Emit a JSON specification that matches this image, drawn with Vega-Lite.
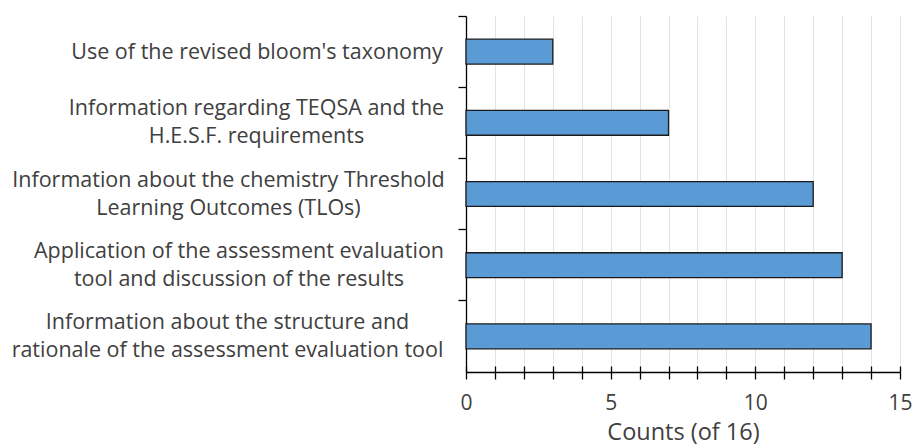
{
  "$schema": "https://vega.github.io/schema/vega-lite/v6.json",
  "width": 434,
  "height": 356,
  "autosize": "none",
  "padding": {"left": 466, "top": 16, "right": 14, "bottom": 74},
  "background": "white",
  "config": {
    "view": {"stroke": null},
    "font": "Open Sans"
  },
  "data": {
    "values": [
      {"topic": "Use of the revised bloom's taxonomy", "count": 3},
      {"topic": "Information regarding TEQSA and the\nH.E.S.F. requirements", "count": 7},
      {"topic": "Information about the chemistry Threshold\nLearning Outcomes (TLOs)", "count": 12},
      {"topic": "Application of the assessment evaluation\ntool and discussion of the results", "count": 13},
      {"topic": "Information about the structure and\nrationale of the assessment evaluation tool", "count": 14}
    ]
  },
  "encoding": {
    "y": {
      "field": "topic",
      "type": "nominal",
      "sort": null,
      "scale": {"paddingInner": 0, "paddingOuter": 0},
      "axis": {
        "title": null,
        "bandPosition": 0,
        "domainColor": "#000000",
        "domainWidth": 1.3,
        "tickColor": "#000000",
        "tickWidth": 1.3,
        "tickSize": 8,
        "labelFont": "Open Sans",
        "labelFontSize": 21.5,
        "labelColor": "#404040",
        "labelLimit": 0,
        "labelLineHeight": 28,
        "labelAlign": "center",
        "labelBaseline": "middle",
        "labelExpr": "split(datum.label, '\\n')",
        "labelOffset": {
          "condition": {"test": "indexof(datum.value, 'bloom') >= 0", "value": 1.5},
          "value": -13.5
        },
        "labelPadding": {
          "condition": [
            {"test": "indexof(datum.value, 'bloom') >= 0", "value": 201.5},
            {"test": "indexof(datum.value, 'TEQSA') >= 0", "value": 202},
            {"test": "indexof(datum.value, 'chemistry') >= 0", "value": 230},
            {"test": "indexof(datum.value, 'Application') >= 0", "value": 219.5}
          ],
          "value": 231
        }
      }
    }
  },
  "layer": [
    {
      "mark": {"type": "bar", "height": {"band": 0.35}, "fill": "#5B9BD5", "stroke": "#1a1a1a", "strokeWidth": 1.3},
      "encoding": {
        "x": {
          "field": "count",
          "type": "quantitative",
          "scale": {"domain": [0, 15], "nice": false},
          "axis": {
            "title": "Counts (of 16)",
            "titleFont": "Open Sans",
            "titleFontSize": 23.5,
            "titleFontWeight": "normal",
            "titleColor": "#404040",
            "titlePadding": 7,
            "values": [0, 1, 2, 3, 4, 5, 6, 7, 8, 9, 10, 11, 12, 13, 14, 15],
            "labelExpr": "datum.value % 5 === 0 ? datum.label : ''",
            "labelFont": "Open Sans",
            "labelFontSize": 21,
            "labelColor": "#404040",
            "labelPadding": 13,
            "labelFlush": false,
            "labelOverlap": false,
            "domainColor": "#000000",
            "domainWidth": 1.3,
            "tickColor": "#000000",
            "tickWidth": 1.3,
            "tickSize": 7,
            "grid": true,
            "gridColor": "#e3e3e3",
            "gridWidth": 1
          }
        }
      }
    },
    {
      "mark": {"type": "bar", "height": {"band": 0.35}, "opacity": 0},
      "encoding": {
        "x": {
          "field": "count",
          "type": "quantitative",
          "scale": {"domain": [0, 15], "nice": false},
          "axis": {
            "orient": "top",
            "offset": -356,
            "title": null,
            "labels": false,
            "domain": false,
            "grid": false,
            "values": [0, 1, 2, 3, 4, 5, 6, 7, 8, 9, 10, 11, 12, 13, 14, 15],
            "tickColor": "#000000",
            "tickWidth": 1.3,
            "tickSize": 6
          }
        }
      }
    }
  ],
  "resolve": {"axis": {"x": "independent"}}
}
